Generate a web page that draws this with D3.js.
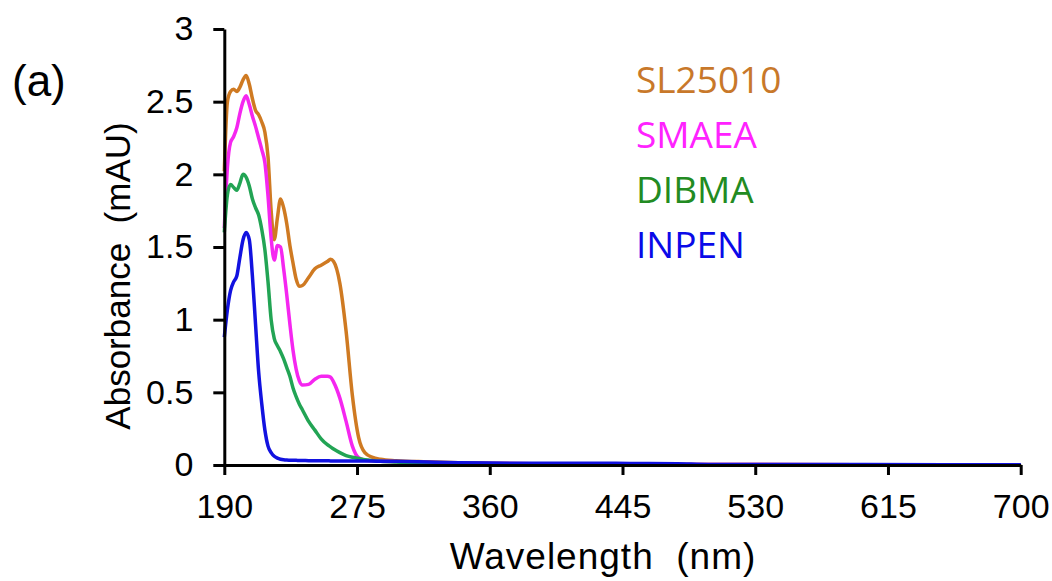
<!DOCTYPE html>
<html>
<head>
<meta charset="utf-8">
<script src="https://cdn.jsdelivr.net/npm/d3@7/dist/d3.min.js"></script>
<style>
  html, body { margin: 0; padding: 0; background: #fff; }
  svg { display: block; }
</style>
</head>
<body>
<svg id="chart" width="1052" height="581"></svg>
<script>
// ---- data ----
const wavelengths = [190,192,194,196,198,200,202,204,206,208,210,212,214,216,218,220,222,224,226,228,230,232,234,236,238,240,244,248,252,256,258,260,264,268,272,276,280,285,290,300,320,340,360,400,450,480,500,600,700];

const sl25010 = [2.02,2.50,2.57,2.585,2.57,2.60,2.65,2.68,2.62,2.52,2.44,2.41,2.36,2.29,2.12,1.75,1.55,1.70,1.83,1.77,1.66,1.51,1.39,1.28,1.23,1.235,1.29,1.35,1.375,1.40,1.415,1.40,1.25,0.92,0.48,0.19,0.085,0.052,0.04,0.03,0.022,0.016,0.012,0.008,0.005,0.004,0.003,0.002,0.001];
const smaea   = [1.63,2.05,2.22,2.26,2.32,2.42,2.50,2.54,2.48,2.40,2.33,2.25,2.17,2.08,1.85,1.56,1.41,1.51,1.50,1.35,1.17,0.97,0.79,0.66,0.58,0.55,0.555,0.59,0.61,0.61,0.605,0.57,0.46,0.30,0.13,0.05,0.033,0.028,0.026,0.022,0.018,0.014,0.011,0.007,0.005,0.004,0.003,0.002,0.001];
const dibma   = [1.60,1.86,1.93,1.91,1.89,1.94,2.00,1.98,1.92,1.83,1.77,1.72,1.62,1.48,1.26,1.00,0.87,0.82,0.78,0.73,0.67,0.61,0.53,0.47,0.42,0.38,0.30,0.24,0.18,0.14,0.125,0.11,0.085,0.065,0.053,0.045,0.036,0.030,0.026,0.021,0.016,0.012,0.009,0.006,0.004,0.003,0.002,0.001,0.0];
const inpen   = [0.88,1.07,1.20,1.26,1.30,1.43,1.55,1.60,1.55,1.30,0.97,0.64,0.42,0.24,0.13,0.085,0.06,0.047,0.04,0.036,0.034,0.033,0.032,0.032,0.031,0.031,0.030,0.030,0.029,0.029,0.028,0.028,0.028,0.028,0.028,0.028,0.028,0.027,0.026,0.025,0.020,0.016,0.013,0.012,0.011,0.009,0.004,0.003,0.002];

const seriesNames  = ["SL25010","SMAEA","DIBMA","INPEN"];
const seriesValues = [sl25010, smaea, dibma, inpen];
const lineColors   = ["#CF7A22","#F526F0","#22A454","#1212E0"];
const legendColors = ["#C8782A","#FF22FF","#228B22","#0A0AE8"];

const xTicks = [190,275,360,445,530,615,700];
const yTicks = [0,0.5,1,1.5,2,2.5,3];
const yTickLabels = ["0","0.5","1","1.5","2","2.5","3"];

// ---- layout ----
const svg = d3.select("#chart");
const x = d3.scaleLinear().domain([190,700]).range([224.3,1020.7]);
const y = d3.scaleLinear().domain([0,3]).range([465,29]);

// lines
const line = d3.line()
  .x((d,i) => x(wavelengths[i]))
  .y(d => y(d))
  .curve(d3.curveMonotoneX);

svg.append("g")
  .selectAll("path")
  .data(seriesValues)
  .join("path")
  .attr("d", d => line(d))
  .attr("fill","none")
  .attr("stroke",(d,i)=>lineColors[i])
  .attr("stroke-width",3.5)
  .attr("stroke-linejoin","round");

// axes
const font = "Liberation Sans, Arial, sans-serif";
const yAxis = d3.axisLeft(y).tickValues(yTicks)
  .tickFormat((d,i)=>yTickLabels[i])
  .tickSize(11).tickSizeOuter(0).tickPadding(20);
const xAxis = d3.axisBottom(x).tickValues(xTicks)
  .tickFormat(d3.format("d"))
  .tickSize(10).tickSizeOuter(0).tickPadding(19);

const gy = svg.append("g").attr("transform",`translate(${x(190)},0)`).call(yAxis);
const gx = svg.append("g").attr("transform",`translate(0,${y(0)})`).call(xAxis);

[gx, gy].forEach(g => {
  g.select(".domain").attr("stroke","#000").attr("stroke-width",3);
  g.selectAll(".tick line").attr("stroke","#000").attr("stroke-width",3);
  g.selectAll(".tick text").attr("fill","#000")
    .style("font-family",font).style("font-size","34px");
});

// axis titles
svg.append("text")
  .attr("x",603).attr("y",569)
  .attr("text-anchor","middle")
  .style("font-family",font).style("font-size","37px")
  .style("letter-spacing","1px")
  .attr("fill","#000")
  .text("Wavelength\u00A0 (nm)");

svg.append("text")
  .attr("transform","translate(130,276) rotate(-90)")
  .attr("text-anchor","middle")
  .style("font-family",font).style("font-size","35px")
  .attr("fill","#000")
  .text("Absorbance\u00A0 (mAU)");

// panel label
svg.append("text")
  .attr("x",12).attr("y",96)
  .style("font-family",font).style("font-size","44px")
  .attr("fill","#000")
  .text("(a)");

// legend
svg.append("g")
  .selectAll("text")
  .data(seriesNames)
  .join("text")
  .attr("x",636)
  .attr("y",(d,i)=>93 + i*55)
  .style("font-family","Open Sans, Noto Sans, sans-serif")
  .style("font-size","37px")
  .attr("fill",(d,i)=>legendColors[i])
  .text(d=>d);
</script>
</body>
</html>
